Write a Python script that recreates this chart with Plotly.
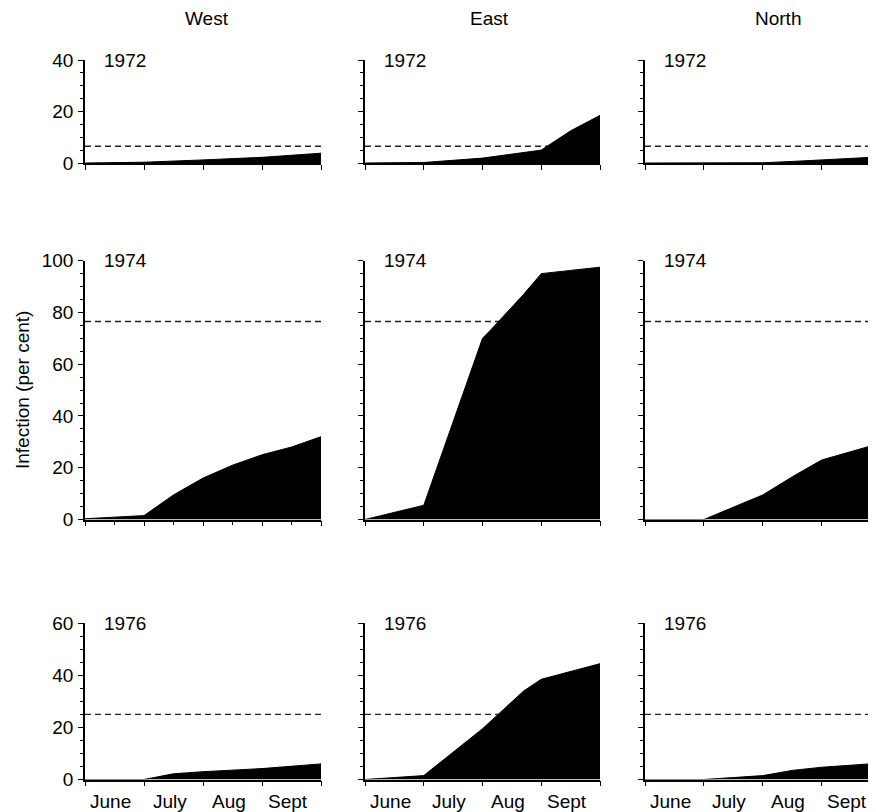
import plotly.graph_objects as go

# ---------------------------------------------------------------------------
# Data: infection (per cent) through the season, x = months after 1 June
# ---------------------------------------------------------------------------
REGIONS = ["West", "East", "North"]
YEARS = ["1972", "1974", "1976"]
MONTHS = ["June", "July", "Aug", "Sept"]
Y_MAX = [40, 100, 60]
THRESHOLD = [6.5, 76.5, 25.0]  # dashed reference level per year

west_1972_x = [0, 1, 2, 3, 4]
west_1972_y = [0, 0.3, 1.2, 2.2, 3.8]
east_1972_x = [0, 1, 2, 3, 3.5, 4]
east_1972_y = [0, 0.2, 1.9, 5.0, 12.5, 18.5]
north_1972_x = [0, 1, 2, 2.5, 3, 4]
north_1972_y = [0, 0, 0.1, 0.6, 1.1, 2.4]

west_1974_x = [0, 1, 1.5, 2, 2.5, 3, 3.5, 4]
west_1974_y = [0.3, 1.5, 9.5, 16, 21, 25, 28, 32]
east_1974_x = [0, 1, 2, 2.15, 2.7, 3, 4]
east_1974_y = [0, 5.5, 70, 73.5, 87, 95, 97.5]
north_1974_x = [0, 1, 2, 2.5, 3, 4]
north_1974_y = [0, 0, 9.5, 16.5, 23, 29.5]

west_1976_x = [0, 1, 1.5, 2, 3, 4]
west_1976_y = [0, 0, 2.2, 3, 4.2, 6]
east_1976_x = [0, 1, 2, 2.7, 3, 4]
east_1976_y = [0, 1.5, 19.5, 34, 38.5, 44.5]
north_1976_x = [0, 1, 2, 2.5, 3, 4]
north_1976_y = [0, 0, 1.5, 3.5, 4.7, 6.3]

SERIES = [
    [(west_1972_x, west_1972_y), (east_1972_x, east_1972_y), (north_1972_x, north_1972_y)],
    [(west_1974_x, west_1974_y), (east_1974_x, east_1974_y), (north_1974_x, north_1974_y)],
    [(west_1976_x, west_1976_y), (east_1976_x, east_1976_y), (north_1976_x, north_1976_y)],
]

# ---------------------------------------------------------------------------
# Layout geometry. The page body has an 8px margin, so the figure is drawn
# 8px smaller and every pixel position below is page position minus 8.
# ---------------------------------------------------------------------------
OFF = 8
W, H = 876 - OFF, 812 - OFF
COL_PX = [(85, 321), (365, 600), (645, 876)]
X_RANGE = [(0, 4), (0, 4), (0, (876 - 645) / 58.9)]   # North panel is cut off at the page edge
ROW_PX = [(60, 163), (260.7, 519.5), (623.3, 779.5)]

FONT = dict(family="Liberation Sans, Arial, Helvetica, sans-serif", size=19, color="black")


def px_x(p):
    return (p - OFF) / W


def px_y(p):
    return 1 - (p - OFF) / H


fig = go.Figure()
annotations = []
layout = {}

for r in range(3):
    for c in range(3):
        n = r * 3 + c + 1
        xa = "x" if n == 1 else f"x{n}"
        ya = "y" if n == 1 else f"y{n}"
        xs, ys = SERIES[r][c]

        fig.add_scatter(
            x=[0, 4], y=[THRESHOLD[r], THRESHOLD[r]], xaxis=xa, yaxis=ya,
            mode="lines", line=dict(color="#222", width=1.4, dash="6px,4px"),
            hoverinfo="skip",
        )
        fig.add_scatter(
            x=xs, y=ys, xaxis=xa, yaxis=ya, mode="lines",
            fill="tozeroy", fillcolor="black", line=dict(color="black", width=1),
        )

        x0, x1 = COL_PX[c]
        y0, y1 = ROW_PX[r]
        xaxis = dict(
            domain=[px_x(x0), min(1, px_x(x1))], range=list(X_RANGE[c]), anchor=ya,
            automargin=False, showgrid=False, zeroline=False,
            showline=True, linecolor="black", linewidth=1.6,
            ticks="outside", tickvals=[0, 1, 2, 3, 4], ticklen=5, tickwidth=1.4,
            tickcolor="black", showticklabels=False, fixedrange=True,
        )
        if r == 1 and c == 0:
            xaxis["minor"] = dict(dtick=0.5, tick0=0, ticks="outside", ticklen=4,
                                  tickwidth=1.2, tickcolor="black")
        yaxis = dict(
            domain=[px_y(y1), px_y(y0)], range=[0, Y_MAX[r]], anchor=xa,
            automargin=False, showgrid=False, zeroline=False,
            showline=True, linecolor="black", linewidth=1.6,
            ticks="outside", dtick=20, tick0=0, ticklen=5, tickwidth=1.4, tickcolor="black",
            minor=dict(dtick=5, tick0=0, ticks="outside", ticklen=3, tickwidth=1.2,
                       tickcolor="black"),
            showticklabels=(c == 0), tickfont=FONT, ticklabelstandoff=1,
        )
        layout["xaxis" if n == 1 else f"xaxis{n}"] = xaxis
        layout["yaxis" if n == 1 else f"yaxis{n}"] = yaxis

        # year label in the top-left corner of each panel
        annotations.append(dict(
            text=YEARS[r], xref=f"{xa} domain", yref=f"{ya} domain", x=0, y=1,
            xanchor="left", yanchor="middle", xshift=17, showarrow=False, font=FONT,
        ))
        # month labels under the bottom row
        if r == 2:
            for k, m in enumerate(MONTHS):
                annotations.append(dict(
                    text=m, xref=xa, yref=f"{ya} domain", x=k + 0.5, y=0,
                    xanchor="center", yanchor="top", xshift=-4, yshift=-9,
                    showarrow=False, font=FONT,
                ))

# column headings
for name, hx in zip(REGIONS, [207, 489, 778]):
    annotations.append(dict(
        text=name, xref="paper", yref="paper", x=px_x(hx), y=px_y(18),
        xanchor="center", yanchor="middle", showarrow=False, font=FONT,
    ))

# shared y-axis title
annotations.append(dict(
    text="Infection (per cent)", xref="paper", yref="paper", x=px_x(22), y=px_y(390),
    xanchor="center", yanchor="middle", textangle=-90, showarrow=False, font=FONT,
))

fig.update_layout(
    template="none",
    width=W, height=H,
    margin=dict(l=0, r=0, t=0, b=0, pad=0, autoexpand=False),
    plot_bgcolor="white", paper_bgcolor="white",
    showlegend=False, font=FONT,
    annotations=annotations,
    **layout,
)

fig.write_html("out.html")
